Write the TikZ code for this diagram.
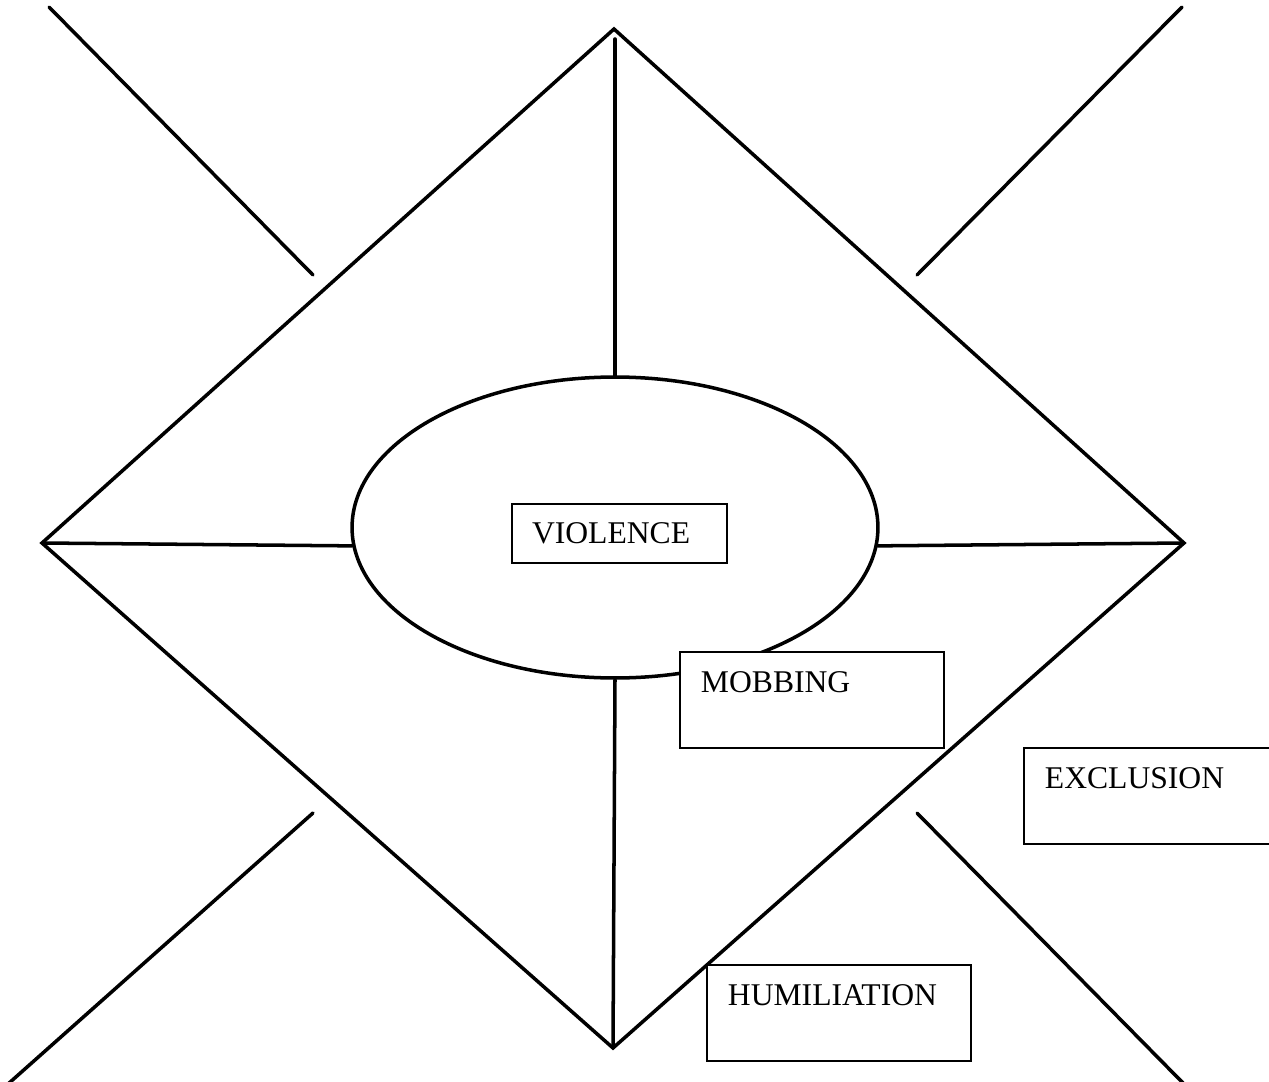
\documentclass[tikz,border=0pt]{standalone}
\usepackage{fontspec}
\setmainfont{Liberation Serif}
\usetikzlibrary{positioning, shapes.geometric}

\begin{document}
\begin{tikzpicture}[
      x=0.02cm, y=-0.02cm,
      edge/.style   = {line width=2pt, line cap=round},
      core/.style   = {ellipse, draw, line width=2pt,
                       minimum width=10.52cm, minimum height=6.02cm},
      tag/.style    = {rectangle, draw, fill=white, line width=1.1pt,
                       anchor=north west, align=left,
                       font=\fontsize{18}{22}\selectfont,
                       inner xsep=0.42cm, inner ysep=0.40cm,
                       text width=4.44cm, text height=0.42cm, text depth=0.70cm},
      centretag/.style = {rectangle, draw, fill=white, line width=1.1pt,
                       font=\fontsize{18}{22}\selectfont, align=left,
                       inner xsep=0.4cm, text width=3.5cm,
                       minimum height=1.18cm},
    ]
    \useasboundingbox (0,0) rectangle (1269,1082);

    % Diamond corners
    \coordinate (top)    at (614,29);
    \coordinate (right)  at (1184,543);
    \coordinate (bottom) at (613,1048);
    \coordinate (left)   at (42,543);
    \coordinate (spine)  at (615,39);

    \draw[edge, line join=miter] (top) -- (right) -- (bottom) -- (left) -- cycle;

    % Centre ellipse
    \node[core] (hub) at (615,527.5) {};
    \node[centretag] (violence) at (619.5,533.5) {VIOLENCE};

    % Spokes
    \draw[edge] (spine) -- (hub.north);
    \draw[edge] (hub.south) -- (bottom);
    \draw[edge] (left) -- (hub.184.3);
    \draw[edge] (hub.356.4) -- (right);

    % Corner strokes
    \coordinate (tl1) at (49,7);    \coordinate (tl2) at (313,275);
    \coordinate (tr1) at (1182,7);  \coordinate (tr2) at (917,275);
    \coordinate (bl1) at (313,813); \coordinate (bl2) at (8,1084);
    \coordinate (br1) at (917,813); \coordinate (br2) at (1184,1084);
    \draw[edge] (tl1) -- (tl2);
    \draw[edge] (tr1) -- (tr2);
    \draw[edge] (bl1) -- (bl2);
    \draw[edge] (br1) -- (br2);

    % Labels
    \node[tag] (mobbing)     at (679,651)  {MOBBING};
    \node[tag] (exclusion)   at (1023,747) {EXCLUSION};
    \node[tag] (humiliation) at (706,964)  {HUMILIATION};
  \end{tikzpicture}
\end{document}
